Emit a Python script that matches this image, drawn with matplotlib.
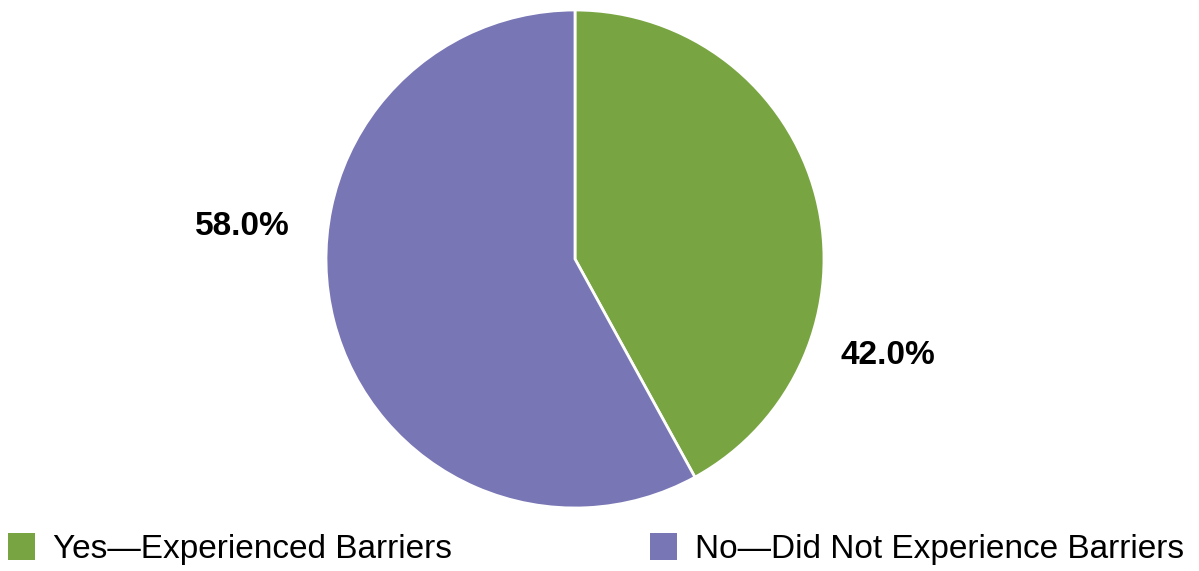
import matplotlib.pyplot as plt
from matplotlib.patches import Patch

plt.rcParams['font.family'] = ['Liberation Sans', 'DejaVu Sans']

labels = ["Yes\u2014Experienced Barriers", "No\u2014Did Not Experience Barriers"]
shares = [42.0, 58.0]
colors = ["#78A541", "#7876B5"]

# label spots, in units of the pie radius
label_pos = [(1.257, -0.386), (-1.337, 0.129)]
# left edge of each legend entry, in pixels
legend_x = [8, 650]

W, H = 1199, 571
R = 249.0
cx, cy = 575, 259

fig = plt.figure(figsize=(W / 100, H / 100), dpi=100)
ax = fig.add_axes([0, 0, 1, 1])

wedges, _ = ax.pie(shares, colors=colors, startangle=90, counterclock=False,
                   wedgeprops=dict(edgecolor="white", linewidth=2))

for w, v, (x, y) in zip(wedges, shares, label_pos):
    ax.text(x, y, f"{v:.1f}%", ha="center", va="center",
            fontsize=24, fontweight="bold", color="black")

ax.set_xlim(-cx / R, (W - cx) / R)
ax.set_ylim(-(H - cy) / R, cy / R)
ax.set_aspect("auto")
ax.axis("off")

for lab, c, lx in zip(labels, colors, legend_x):
    leg = fig.legend([Patch(facecolor=c, edgecolor="none")], [lab],
                     loc="lower left", bbox_to_anchor=(lx / W, 6 / H),
                     frameon=False, fontsize=24, handlelength=0.8, handleheight=0.88,
                     handletextpad=0.55, borderaxespad=0, borderpad=0)

fig.savefig("out.png", dpi=100)
